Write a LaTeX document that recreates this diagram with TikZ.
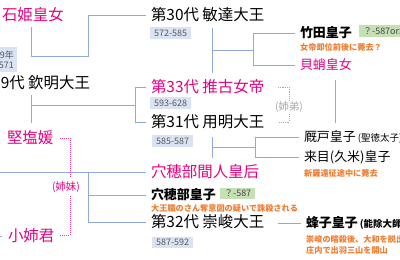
\documentclass[tikz,border=0pt]{standalone}
\usepackage{fontspec}
\setmainfont{Noto Sans CJK JP}
\usepackage{tikz}

\definecolor{lineblue}{RGB}{143,170,220}
\definecolor{himepink}{RGB}{228,0,127}
\definecolor{yrfill}{RGB}{218,227,243}
\definecolor{yrtext}{RGB}{89,89,89}
\definecolor{grnfill}{RGB}{197,224,180}
\definecolor{notecol}{RGB}{237,125,49}
\definecolor{sisgray}{RGB}{166,166,166}

\begin{document}
\begin{tikzpicture}[x=1bp,y=-1bp,
    line/.style={draw=lineblue, line width=0.9bp},
    king/.style={inner sep=0pt, outer xsep=5.5bp, anchor=west, font=\fontsize{15.5}{17}\selectfont},
    hime/.style={king, text=himepink},
    sub/.style={inner sep=0pt, outer xsep=5.5bp, anchor=west, font=\fontsize{13}{15}\selectfont},
    subb/.style={sub, font=\fontsize{13}{15}\selectfont\bfseries},
    subhime/.style={sub, text=himepink},
    yr/.style={fill=yrfill, text=yrtext, inner xsep=4bp, inner ysep=0pt, minimum height=11.5bp, anchor=west, font=\fontsize{9}{10}\selectfont},
    age/.style={yr, fill=grnfill, text=yrtext!80!black},
    note/.style={inner sep=0pt, anchor=west, text=notecol, font=\fontsize{8.2}{10.5}\selectfont\bfseries},
    sisdot/.style={draw=sisgray, line width=0.8bp, dash pattern=on 1.2bp off 1bp},
    himedot/.style={draw=himepink!75, line width=0.8bp, dash pattern=on 1bp off 1bp},
    sistext/.style={inner sep=1bp, font=\fontsize{10.5}{11}\selectfont}]

    \useasboundingbox (0,0) rectangle (400,260);
    \clip (0,0) rectangle (400,260);

    % ================= LEFT COLUMN =================
    \node[hime, outer xsep=0pt] (ishi) at (2,15) {石姫皇女};
    \node[king, anchor=east, outer xsep=0pt] (kinmei) at (90,83) {第29代 欽明大王};
    \node[yr, anchor=east, minimum height=25bp, inner xsep=3bp, align=right] (yrkinmei) at (17,59.5) {539年\\-571};
    \node[hime, outer xsep=0pt] (kitashi) at (7,138) {堅塩媛};
    \node[hime] (oane) at (2.5,236) {小姉君};

    % ================= MIDDLE COLUMN =================
    \node[king] (bidatsu) at (145.5,15) {第30代 敏達大王};
    \node[yr] (yrbidatsu) at (150,33) {572-585};
    \node[hime] (suiko) at (145.5,87) {第33代 推古女帝};
    \node[yr] (yrsuiko) at (150,103) {593-628};
    \node[king] (yomei) at (145.5,122) {第31代 用明大王};
    \node[yr] (yryomei) at (152,141) {585-587};
    \node[hime] (hashihito) at (145.5,172) {穴穂部間人皇后};
    \node[subb] (anahobe) at (145.5,195) {穴穂部皇子};
    \node[age] (ageanahobe) at (220,193.5) {？-587};
    \node[note] (noteanahobe) at (151,208) {大王職のさん奪意図の疑いで誅殺される};
    \node[king] (sushun) at (145.5,222) {第32代 崇峻大王};
    \node[yr] (yrsushun) at (152,242.5) {587-592};

    % ================= RIGHT COLUMN =================
    \node[subb] (takeda) at (294.5,33) {竹田皇子};
    \node[age] (agetakeda) at (359,31) {？-587or588};
    \node[note] (notetakeda) at (300,47) {女帝即位前後に薨去？};
    \node[subhime] (kaidako) at (294.5,65) {貝蛸皇女};
    \node[sub] (umayado) at (298.5,137) {厩戸皇子\,{\fontsize{9.5}{10}\selectfont(聖徳太子)}};
    \node[sub] (kume) at (298.5,157) {来目(久米)皇子};
    \node[note] (notekume) at (304,173) {新羅遠征途中に薨去};
    \node[subb] (hachiko) at (300.5,223) {蜂子皇子\,{\fontsize{9.5}{10}\selectfont(能除大師)}};
    \node[note, align=left] (notehachiko) at (306,245) {崇峻の暗殺後、大和を脱出し\\庄内で出羽三山を開山};

    % ================= CONNECTORS =================
    % Kinmei + Ishihime
    \coordinate (ki1) at (31,27);
    \coordinate (ki2) at (31,56);
    \draw[line] (ki1) -- (ki2) -- (ki2 -| 88,0) |- (bidatsu.west);

    % Kinmei + Kitashihime
    \coordinate (ka1) at (31,95);
    \coordinate (ka2) at (31,123);
    \coordinate (kaj) at (31,105);
    \draw[line] (ka1) -- (ka2);
    \draw[line] (kaj) -- (kaj -| 135,0);
    \draw[line] (suiko.west) -| (yomei.west -| 135,0) -- (yomei.west);

    % Kinmei + Oanegimi
    \coordinate (oa1) at (0,172);
    \coordinate (oaj) at (88,172);
    \draw[line] (oa1) -- (hashihito.west);
    \draw[line] (oaj) |- (sushun.west);
    \draw[line] (oaj |- anahobe.west) -- (anahobe.west);
    \coordinate (oa2) at (0,236);
    \draw[line] (oa2) -- (oane.west);

    % Bidatsu + Suiko
    \coordinate (bs1) at (212,28);
    \coordinate (bs2) at (212,73);
    \draw[line] (bs1) -- (bs2);
    \draw[line] (212,50) -- (253,50);
    \draw[line] (takeda.west) -| (kaidako.west -| 253,0) -- (kaidako.west);

    % Kaidako + Umayado
    \coordinate (ku1) at (335,80);
    \coordinate (ku2) at (335,123);
    \draw[line] (ku1) -- (ku2);

    % Yomei + Hashihito
    \coordinate (yh1) at (212,137);
    \coordinate (yh2) at (212,158);
    \draw[line] (yh1) -- (yh2);
    \draw[line] (212,147) -- (255,147);
    \draw[line] (umayado.west) -| (kume.west -| 255,0) -- (kume.west);

    % Sushun -> Hachiko
    \coordinate (su1) at (278,223);
    \draw[line] (su1) -- (hachiko.west);

    % Dotted brackets
    \node[sistext, text=sisgray] (anetei) at (289,107) {(姉弟)};
    \draw[sisdot] (278,87) -| (anetei.north);
    \draw[sisdot] (anetei.south) |- (278,122);

    \node[sistext, text=himepink] (shimai) at (66,187) {(姉妹)};
    \draw[himedot] (60,138) -| (70,177);
    \draw[himedot] (70,196) |- (60,235);

\end{tikzpicture}
\end{document}
